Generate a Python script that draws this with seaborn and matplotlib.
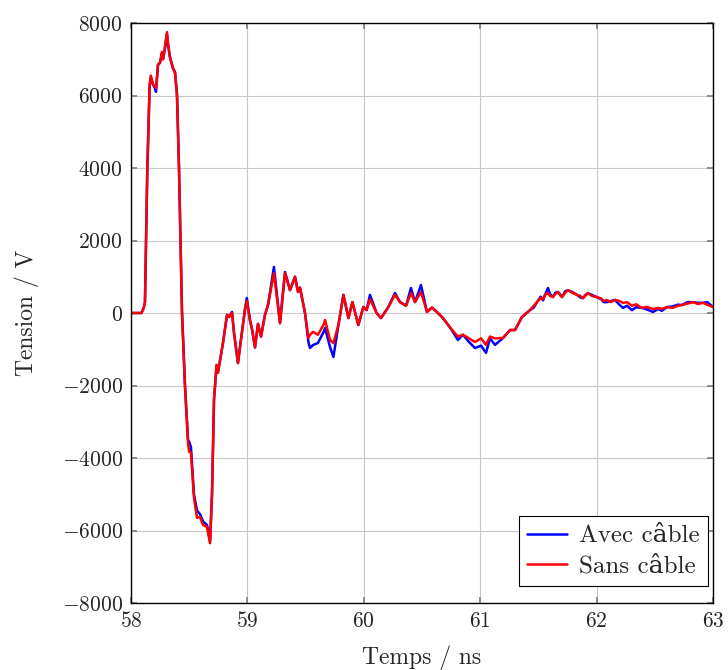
import numpy as np
import pandas as pd
import matplotlib
matplotlib.use("Agg")
import matplotlib.pyplot as plt
import seaborn as sns

# Time axis (ns)
temps = [58.000, 58.090, 58.110, 58.120, 58.140, 58.160, 58.170, 58.190, 58.205, 58.215,
         58.232, 58.249, 58.266, 58.275, 58.292, 58.309, 58.318, 58.335, 58.361, 58.378,
         58.395, 58.412, 58.425, 58.438, 58.464, 58.490, 58.500, 58.515, 58.541, 58.567,
         58.593, 58.619, 58.653, 58.679, 58.696, 58.713, 58.735, 58.747, 58.765, 58.790,
         58.825, 58.842, 58.868, 58.885, 58.919, 58.940, 58.979, 58.995, 59.022, 59.040,
         59.065, 59.091, 59.117, 59.151, 59.177, 59.228, 59.280, 59.323, 59.366, 59.409,
         59.435, 59.452, 59.495, 59.524, 59.538, 59.564, 59.606, 59.658, 59.667, 59.710,
         59.739, 59.782, 59.825, 59.868, 59.902, 59.953, 59.996, 60.024, 60.053, 60.110,
         60.148, 60.208, 60.268, 60.311, 60.363, 60.405, 60.440, 60.491, 60.543, 60.586,
         60.637, 60.680, 60.741, 60.809, 60.852, 60.904, 60.955, 61.007, 61.050, 61.084,
         61.127, 61.196, 61.256, 61.299, 61.359, 61.428, 61.460, 61.488, 61.520, 61.540,
         61.557, 61.582, 61.600, 61.625, 61.645, 61.668, 61.690, 61.703, 61.730, 61.754,
         61.790, 61.832, 61.860, 61.883, 61.905, 61.926, 61.960, 62.003, 62.040, 62.060,
         62.089, 62.120, 62.158, 62.190, 62.227, 62.260, 62.304, 62.340, 62.390, 62.430,
         62.484, 62.530, 62.560, 62.605, 62.650, 62.700, 62.734, 62.780, 62.828, 62.870,
         62.914, 62.950, 63.000]

# Sans câble (red)
sans_cable = [0, 0, 150, 300, 4000, 6300, 6550, 6300, 6250, 6200,
              6850, 6900, 7200, 7000, 7350, 7750, 7450, 7050, 6750, 6620,
              6000, 4000, 1950, 0, -2050, -3600, -3830, -3850, -5100, -5650,
              -5630, -5850, -5900, -6350, -5000, -2400, -1430, -1650, -1300, -830,
              -50, -110, 0, -550, -1380, -850, 100, 330, -200, -450,
              -950, -300, -650, -50, 220, 1100, -280, 1100, 630, 1000,
              580, 700, 0, -690, -600, -520, -600, -300, -193, -745,
              -830, -330, 500, -140, 300, -330, 166, 80, 380, 0,
              -140, 150, 500, 300, 200, 550, 300, 580, 30, 150,
              0, -140, -400, -650, -600, -700, -800, -700, -880, -650,
              -700, -690, -470, -470, -110, 80, 200, 300, 420, 380,
              500, 550, 470, 440, 520, 580, 480, 440, 560, 630,
              560, 500, 470, 410, 480, 550, 470, 440, 400, 330,
              360, 300, 360, 340, 280, 300, 200, 240, 140, 170,
              110, 140, 110, 165, 140, 200, 220, 260, 300, 250,
              280, 230, 165]

# Avec câble (blue)
avec_cable = [0, 0, 150, 300, 3900, 6250, 6500, 6300, 6200, 6100,
              6850, 6900, 7150, 7000, 7300, 7700, 7400, 7050, 6750, 6650,
              6050, 4100, 2000, 50, -2000, -3500, -3550, -3700, -5000, -5450,
              -5550, -5750, -5850, -6300, -5000, -2400, -1450, -1650, -1300, -830,
              -50, -110, 30, -550, -1380, -850, 100, 414, -200, -450,
              -950, -300, -650, -50, 220, 1270, -280, 1130, 630, 1000,
              580, 700, 0, -800, -966, -883, -828, -500, -414, -940,
              -1214, -330, 500, -140, 300, -330, 166, 80, 500, 0,
              -140, 150, 550, 300, 200, 690, 300, 770, 30, 150,
              0, -140, -400, -745, -600, -800, -966, -900, -1100, -700,
              -880, -690, -470, -470, -110, 80, 150, 300, 450, 350,
              500, 690, 520, 440, 560, 580, 500, 440, 600, 630,
              580, 500, 430, 410, 500, 550, 500, 440, 380, 300,
              300, 330, 360, 250, 140, 200, 80, 160, 140, 100,
              30, 110, 60, 165, 180, 230, 220, 300, 300, 280,
              280, 300, 165]

series_names = ["Avec câble", "Sans câble"]
series_colors = ["#0000ff", "#ff0000"]
x_ticks = [58, 59, 60, 61, 62, 63]
y_ticks = [-8000, -6000, -4000, -2000, 0, 2000, 4000, 6000, 8000]

df = pd.concat([
    pd.DataFrame({"t": temps, "v": avec_cable, "s": series_names[0]}),
    pd.DataFrame({"t": temps, "v": sans_cable, "s": series_names[1]}),
])

sns.set_theme(style="white")
plt.rcParams["font.family"] = ["cmr10", "DejaVu Serif"]
plt.rcParams["mathtext.fontset"] = "cm"
plt.rcParams["axes.formatter.use_mathtext"] = True

fig = plt.figure(figsize=(7.28, 6.70), dpi=100)
ax = fig.add_axes([131/728, 1-603/670, (713-131)/728, (603-23)/670])

sns.lineplot(data=df, x="t", y="v", hue="s", palette=series_colors,
             hue_order=series_names, linewidth=1.8, ax=ax, sort=False,
             estimator=None)

ax.set_xlim(58, 63)
ax.set_ylim(-8000, 8000)
ax.set_xticks(x_ticks)
ax.set_yticks(y_ticks)
ax.set_xticklabels([f"${v}$" for v in x_ticks])
ax.set_yticklabels([f"${v}$" for v in y_ticks])
ax.grid(True, color="#c8c8c8", linewidth=0.8)
ax.tick_params(direction="in", length=4, color="#808080", labelsize=15.5,
               top=True, right=True, bottom=True, left=True, pad=6)
for sp in ax.spines.values():
    sp.set_color("black")
    sp.set_linewidth(1.0)

ax.set_xlabel("Temps / ns", fontsize=17, labelpad=10)
ax.set_ylabel("Tension / V", fontsize=17, labelpad=16)

leg = ax.legend(loc="lower right", bbox_to_anchor=(0.9914, 0.0293),
                fontsize=18, frameon=True, fancybox=False,
                edgecolor="black", framealpha=1, borderpad=0.35,
                handlelength=1.6, borderaxespad=0.0, labelspacing=0.3,
                handletextpad=0.45)
leg.get_frame().set_linewidth(0.8)

fig.savefig("out.png", dpi=100)
